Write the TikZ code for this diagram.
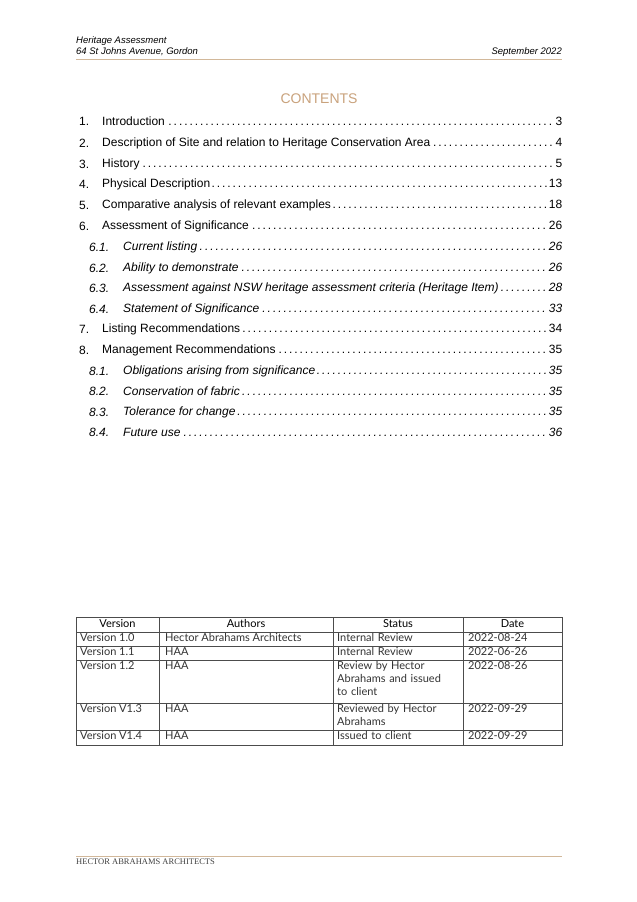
\documentclass[tikz,border=0pt]{standalone}
\usepackage{fontspec}
\setmainfont{Liberation Sans}
\newfontfamily\lato{Lato}
\newfontfamily\serifl{Liberation Serif}
\definecolor{tan}{HTML}{C9A27C}
\definecolor{tanline}{HTML}{D2B89A}
\begin{document}
\begin{tikzpicture}[x=1pt,y=-1pt,
  hdr/.style={anchor=west,inner sep=0,font=\fontsize{9.5}{11}\selectfont\itshape},
  toc/.style={anchor=west,inner sep=0,font=\fontsize{12}{14}\selectfont},
  cell/.style={anchor=north west,inner sep=0,font=\lato\fontsize{11}{13}\selectfont\color{black!80},align=left},
  hcell/.style={anchor=north,inner sep=0,font=\lato\fontsize{11}{13}\selectfont}]
\useasboundingbox (0,0) rectangle (637,902);
\fill[white] (0,0) rectangle (637,902);
% header
\node[hdr] (h1) at (76,41) {Heritage Assessment};
\node[hdr] (h2) at (76,52) {64 St Johns Avenue, Gordon};
\node[hdr,anchor=east] (h3) at (562,52) {September 2022};
\draw[tanline,line width=0.8] (76,59) -- (562,59);
\node[inner sep=0,font=\fontsize{14}{16}\selectfont,text=tan] (title) at (319,99) {CONTENTS};
% toc
\newcommand{\tocrow}[5]{% y, numx, num, textx, text+page
  \node[toc,anchor=west] at (#2,#1) {#3};
  \node[toc,anchor=west] at (#4,#1) {\hbox to \dimexpr 562pt-#4pt\relax{#5}};}
\tocrow{121}{79}{1.}{102}{Introduction\dotfill 3}
\tocrow{143}{79}{2.}{102}{Description of Site and relation to Heritage Conservation Area\dotfill 4}
\tocrow{164}{79}{3.}{102}{History\dotfill 5}
\tocrow{184}{79}{4.}{102}{Physical Description\dotfill 13}
\tocrow{205}{79}{5.}{102}{Comparative analysis of relevant examples\dotfill 18}
\tocrow{226}{79}{6.}{102}{Assessment of Significance\dotfill 26}
\tocrow{247}{89}{\itshape 6.1.}{123}{\itshape Current listing\dotfill 26}
\tocrow{268}{89}{\itshape 6.2.}{123}{\itshape Ability to demonstrate\dotfill 26}
\tocrow{288}{89}{\itshape 6.3.}{123}{\itshape Assessment against NSW heritage assessment criteria (Heritage Item)\dotfill 28}
\tocrow{309}{89}{\itshape 6.4.}{123}{\itshape Statement of Significance\dotfill 33}
\tocrow{329}{79}{7.}{102}{Listing Recommendations\dotfill 34}
\tocrow{350}{79}{8.}{102}{Management Recommendations\dotfill 35}
\tocrow{371}{89}{\itshape 8.1.}{123}{\itshape Obligations arising from significance\dotfill 35}
\tocrow{391}{89}{\itshape 8.2.}{123}{\itshape Conservation of fabric\dotfill 35}
\tocrow{412}{89}{\itshape 8.3.}{123}{\itshape Tolerance for change\dotfill 35}
\tocrow{432}{89}{\itshape 8.4.}{123}{\itshape Future use\dotfill 36}
% table
\draw[black!70,line width=0.7] (76,617) rectangle (562,745);
\foreach \y in {632,646,660,703,730} \draw[black!70,line width=0.7] (76,\y) -- (562,\y);
\foreach \x in {159,333,463} \draw[black!70,line width=0.7] (\x,617) -- (\x,745);
\node[hcell] (c1) at (117.5,619) {Version};
\node[hcell] (c2) at (246,619) {Authors};
\node[hcell] (c3) at (398,619) {Status};
\node[hcell] (c4) at (512.5,619) {Date};
\newcommand{\trow}[5]{%
  \node[cell] at (80,#1) {#2};
  \node[cell] at (165,#1) {#3};
  \node[cell,text width=118pt] at (337,#1) {#4};
  \node[cell] at (468,#1) {#5};}
\trow{633}{Version 1.0}{Hector Abrahams Architects}{Internal Review}{2022-08-24}
\trow{647}{Version 1.1}{HAA}{Internal Review}{2022-06-26}
\trow{661}{Version 1.2}{HAA}{Review by Hector\\Abrahams and issued\\to client}{2022-08-26}
\trow{704}{Version V1.3}{HAA}{Reviewed by Hector\\Abrahams}{2022-09-29}
\trow{731}{Version V1.4}{HAA}{Issued to client}{2022-09-29}
% footer
\draw[tanline,line width=0.8] (76,856) -- (562,856);
\node[anchor=west,inner sep=0,font=\serifl\fontsize{8.5}{10}\selectfont,text=black!75] (foot) at (76,862) {HECTOR ABRAHAMS ARCHITECTS};
\end{tikzpicture}
\end{document}
